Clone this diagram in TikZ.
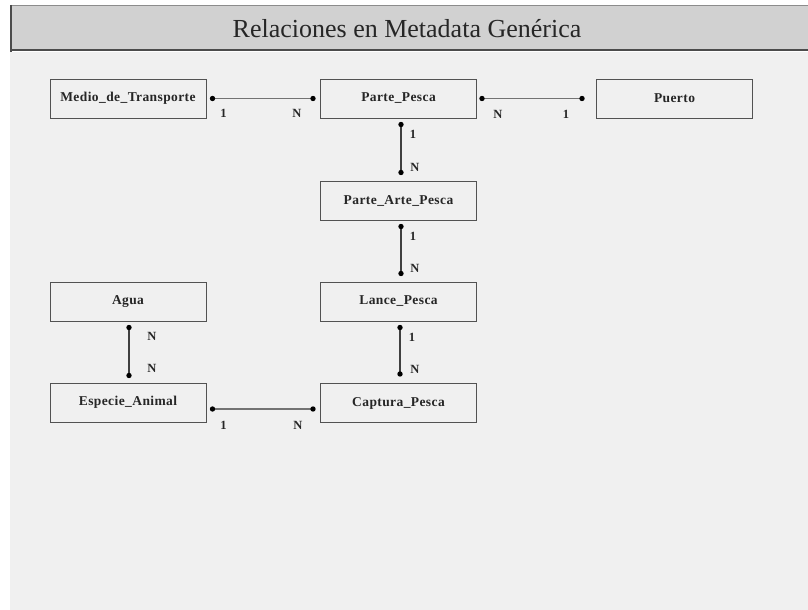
\documentclass[tikz,border=0pt]{standalone}
\usepackage{fontspec}
\setmainfont{Liberation Serif}
\newfontfamily\titlefont{Liberation Serif}
\newfontfamily\boxfont[LetterSpace=3]{Liberation Serif Bold}
\newfontfamily\cardfont{Liberation Serif Bold}
\begin{document}
\begin{tikzpicture}[x=1pt,y=-1pt,
  entity/.style={draw=black!68,fill=black!6,line width=1pt,minimum width=156pt,
    minimum height=39pt,inner sep=0pt,text=black!85,font=\boxfont\fontsize{13.5}{15}\selectfont},
  rel/.style={draw=black!55,line width=1.3pt},
  vrel/.style={draw=black!75,line width=1.3pt},
  endpt/.style={fill=black},
  card/.style={font=\cardfont\fontsize{12.5}{14}\selectfont,inner sep=0pt,text=black!85}]
  \useasboundingbox (0,0) rectangle (808,610);
  % page and title bar
  \fill[white] (0,0) rectangle (808,610);
  \fill[black!6] (10,52) rectangle (808,610);
  \fill[black!18] (10,5) rectangle (808,51);
  \draw[black!45,line width=1pt] (10,5.5) -- (808,5.5);
  \draw[black!70,line width=1.5pt] (11,5) -- (11,52);
  \draw[black!70,line width=2pt] (10,50.5) -- (808,50.5);
  \node[font=\titlefont\fontsize{26}{30}\selectfont,text=black!85] (title) at (407,29) {Relaciones en Metadata Genérica};

  % entities
  \node[entity] (mt) at (128,98.5) {Medio\_de\_Transporte};
  \node[entity] (pp) at (398.5,98.5) {Parte\_Pesca};
  \node[entity] (pu) at (674.5,98.5) {Puerto};
  \node[entity] (pa) at (398.5,200.5) {Parte\_Arte\_Pesca};
  \node[entity] (lp) at (398.5,301.5) {Lance\_Pesca};
  \node[entity] (ag) at (128,301.5) {Agua};
  \node[entity] (ea) at (128,402.5) {Especie\_Animal};
  \node[entity] (cp) at (398.5,403) {Captura\_Pesca};

  % horizontal relations
  \draw[rel] ([xshift=6pt]mt.east) coordinate (r1a) -- ([xshift=-7pt]pp.west) coordinate (r1b);
  \draw[rel] ([xshift=5pt]pp.east) coordinate (r2a) -- ([xshift=-14pt]pu.west) coordinate (r2b);
  \draw[rel] ([xshift=6pt,yshift=-6.5pt]ea.east) coordinate (r3a) -- ([xshift=-7pt,yshift=-6pt]cp.west) coordinate (r3b);
  % vertical relations
  \draw[vrel] ([xshift=2.5pt,yshift=-6pt]pp.south) coordinate (v1a) -- ([xshift=2.5pt,yshift=8pt]pa.north) coordinate (v1b);
  \draw[vrel] ([xshift=2.5pt,yshift=-6pt]pa.south) coordinate (v2a) -- ([xshift=2.5pt,yshift=8pt]lp.north) coordinate (v2b);
  \draw[vrel] ([xshift=1.5pt,yshift=-6pt]lp.south) coordinate (v3a) -- ([xshift=1.5pt,yshift=9pt]cp.north) coordinate (v3b);
  \draw[vrel] ([xshift=1pt,yshift=-6pt]ag.south) coordinate (v4a) -- ([xshift=1pt,yshift=7pt]ea.north) coordinate (v4b);

  \foreach \p in {r1a,r1b,r2a,r2b,r3a,r3b,v1a,v1b,v2a,v2b,v3a,v3b,v4a,v4b}
    \fill[endpt] (\p) circle (2.7pt);

  % cardinalities
  \node[card] (c1a) at ([xshift=11pt,yshift=-15pt]r1a) {1};
  \node[card] (c1b) at ([xshift=-16pt,yshift=-15pt]r1b) {N};
  \node[card] (c2a) at ([xshift=16pt,yshift=-16pt]r2a) {N};
  \node[card] (c2b) at ([xshift=-16pt,yshift=-16pt]r2b) {1};
  \node[card] (c3a) at ([xshift=11pt,yshift=-16pt]r3a) {1};
  \node[card] (c3b) at ([xshift=-15pt,yshift=-16pt]r3b) {N};
  \node[card] (c4a) at ([xshift=12pt,yshift=-10pt]v1a) {1};
  \node[card] (c4b) at ([xshift=14pt,yshift=5pt]v1b) {N};
  \node[card] (c5a) at ([xshift=12pt,yshift=-10pt]v2a) {1};
  \node[card] (c5b) at ([xshift=14pt,yshift=5pt]v2b) {N};
  \node[card] (c6a) at ([xshift=12pt,yshift=-10pt]v3a) {1};
  \node[card] (c6b) at ([xshift=15pt,yshift=5pt]v3b) {N};
  \node[card] (c7a) at ([xshift=23pt,yshift=-9pt]v4a) {N};
  \node[card] (c7b) at ([xshift=23pt,yshift=7pt]v4b) {N};
\end{tikzpicture}
\end{document}
